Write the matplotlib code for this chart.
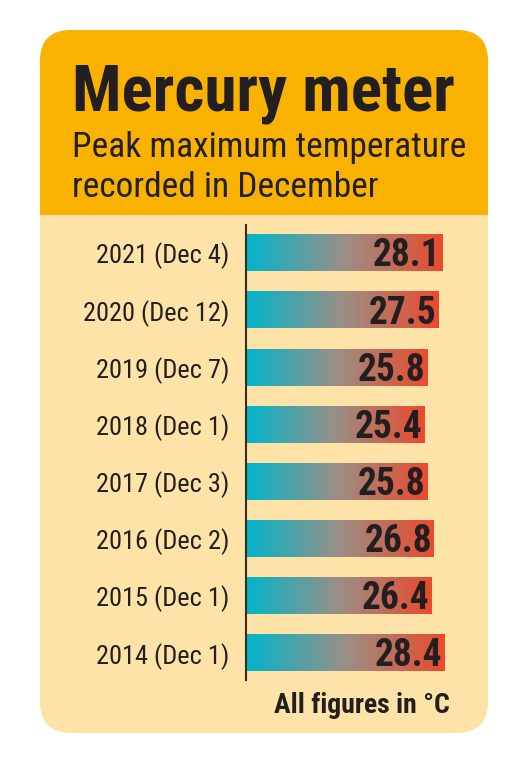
import matplotlib
matplotlib.use('Agg')
import matplotlib.pyplot as plt
import numpy as np
from matplotlib.patches import FancyBboxPatch, Rectangle
from matplotlib.colors import LinearSegmentedColormap

labels = ['2021 (Dec 4)', '2020 (Dec 12)', '2019 (Dec 7)', '2018 (Dec 1)',
          '2017 (Dec 3)', '2016 (Dec 2)', '2015 (Dec 1)', '2014 (Dec 1)']
values = [28.1, 27.5, 25.8, 25.4, 25.8, 26.8, 26.4, 28.4]

W, H = 521, 763
FONT = ['Liberation Sans Narrow', 'Roboto Condensed', 'DejaVu Sans Condensed', 'DejaVu Sans']
BG = '#FDE3A7'
HEAD = '#F9B200'
INK = '#231F20'

fig = plt.figure(figsize=(W / 100, H / 100), dpi=100)
fig.patch.set_facecolor('white')

# card background
card = FancyBboxPatch((40 / W, 30 / H), 448 / W, 703 / H,
                      boxstyle='round,pad=0,rounding_size=0.06',
                      transform=fig.transFigure, facecolor=BG, edgecolor='none',
                      mutation_aspect=W / H)
fig.patches.append(card)
head = FancyBboxPatch((40 / W, (H - 215) / H), 448 / W, 185 / H,
                      boxstyle='round,pad=0,rounding_size=0.06',
                      transform=fig.transFigure, facecolor=HEAD, edgecolor='none',
                      mutation_aspect=W / H)
fig.patches.append(head)
fig.patches.append(Rectangle((40 / W, (H - 215) / H), 448 / W, 60 / H,
                             transform=fig.transFigure, facecolor=HEAD, edgecolor='none'))

fig.text(72 / W, (H - 110) / H, 'Mercury meter', fontsize=47, fontweight='bold',
         color=INK, family=FONT, va='baseline')
fig.text(72 / W, (H - 157) / H, 'Peak maximum temperature', fontsize=25.5,
         color=INK, family=FONT, va='baseline')
fig.text(72 / W, (H - 197) / H, 'recorded in December', fontsize=25.5,
         color=INK, family=FONT, va='baseline')

ax = fig.add_axes([246 / W, (H - 680) / H, 234 / W, 455 / H])
ax.set_zorder(3)
ax.set_facecolor('none')
x0 = -1.4
for s in ['top', 'right', 'bottom']:
    ax.spines[s].set_visible(False)
ax.spines['left'].set_color('#3a2a20')
ax.spines['left'].set_linewidth(1.5)
ax.set_xticks([])
ax.set_yticks(range(len(labels)))
ax.set_yticklabels(labels, fontsize=19, family=FONT, color=INK)
ax.tick_params(axis='y', length=0, pad=12)

cmap = LinearSegmentedColormap.from_list('temp', ['#00B5CC', '#9A8F86', '#EC4A2C'])
grad = np.linspace(0, 1, 256).reshape(1, -1)
bh = 0.64
for i, v in enumerate(values):
    ax.imshow(grad, cmap=cmap, aspect='auto', extent=(x0, v, i + bh / 2, i - bh / 2),
              zorder=2)
    ax.text(v - 0.3, i + 0.05, f'{v}', ha='right', va='center', fontsize=27,
            fontweight='bold', color=INK, family=FONT, zorder=3)
ax.set_xlim(x0, 33.7)
ax.set_ylim(len(values) - 0.53, -0.49)

fig.text(450 / W, (H - 713) / H, 'All figures in °C', fontsize=20, fontweight='bold',
         color=INK, family=FONT, ha='right', va='baseline')

fig.savefig('out.png', dpi=100)
